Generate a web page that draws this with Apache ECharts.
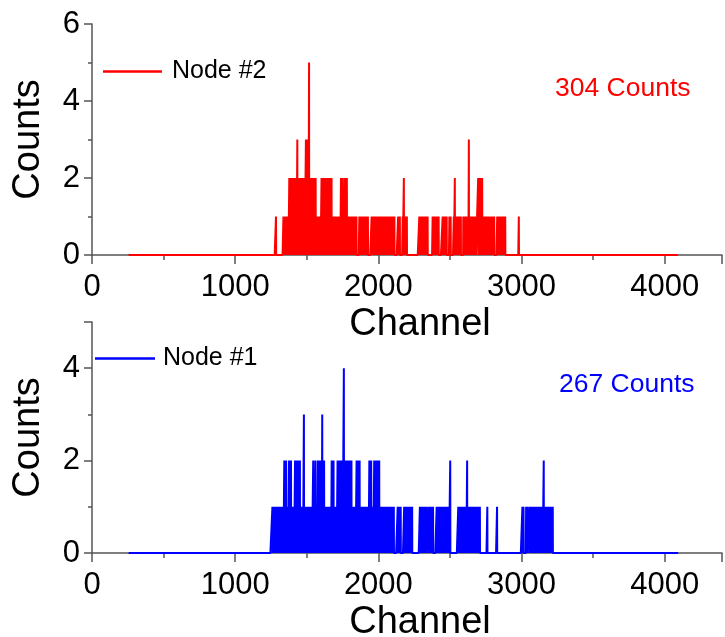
<!DOCTYPE html>
<html>
<head>
<meta charset="utf-8">
<script src="https://cdn.jsdelivr.net/npm/echarts@6/dist/echarts.min.js"></script>
<style>
  html, body { margin: 0; padding: 0; background: #fff; }
  #chart { width: 725px; height: 637px; }
</style>
</head>
<body>
<div id="chart"></div>
<script>
// channel range of the spectrum
const chStart = 256
const chEnd = 4096

// Node #2 (top) – channels holding 1, 2, 3, 5 counts
const node2c1 = [1285, 1337,1343,1350,1357,1364,1371, 1384,1404, 1569,1576,1582,1589,1596, 1628,
  1680,1686,1693,1699,1706,1713,1720,1726,1733, 1759, 1787,1794,1800,1807,1813,1820,1827,1833,1840,1847,
  1867,1874,1880,1888,1894, 1906,1913,1920,1927, 1953,1960,1966,1973,1987,1994,2001,2008,2014,2021,2028,2035,2042,
  2056,2063,2070,2077,2084,2098,2105,2112, 2138,2144,2150, 2170,2185,2192,2199, 2286,2293,2300,2307,2314,2321,
  2334,2344, 2379,2386,2393,2400,2407,2414,2421, 2449,2456,2463,2470,2477, 2496,2505,
  2527,2541,2548,2555,2562,2569,2576, 2593,2600,2607,2614,2621,2628,2639,2646,2653,2660,2667,2674,2681,
  2732,2739,2746,2753,2760,2767,2774,2781,2788,2795,2802,2809, 2830,2837,2844,2851,2858,2865,2872,2879,2886, 2981]
const node2c2 = [1378,1391,1397,1410, 1417,1423,1428,1440,1446,1452,1459,1465,1472,1478,1485,1511,1523,1530,1536,1543,1549,1556,1562,
  1603,1609,1616,1622, 1635,1641,1648,1654,1661,1667,1673, 1739,1745,1752, 1767,1773,1780, 2178, 2534, 2697,2704,2711,2718,2725]
const node2c3 = [1434, 1494, 1500, 1507, 2632]
const node2c5 = [1516]

// Node #1 (bottom) – channels holding 1, 2, 3, 4 counts
const node1c1 = [1260,1266,1273,1280,1287,1294,1301,1308,1315,1322,1329,1336, 1350, 1363,1369, 1383, 1397,1404,1411, 1431,
  1459,1466,1473, 1487,1494,1501,1508,1515,1522,1529,1536, 1552, 1566,1571, 1628,1635,1642,1649,1656,1663,1669, 1680,
  1694,1701,1708, 1729, 1792, 1819,1826,1833,1840, 1855, 1876,1883,1890,1897,1904,1911,1918,1925,1931, 1944, 1957,1964, 1985,
  2013,2020,2027,2034,2041,2048,2055,2062,2068, 2080,2087,2094,2101,2108, 2135,2142,2149,2156,
  2180,2187,2194,2201,2208,2215,2222,2229,2236, 2290,2297,2304,2311,2318,2325,2332,2339, 2354,2361,2368,2375,2382,
  2407,2414,2421, 2430,2437,2444,2451, 2465,2472,2479,2486,2493, 2558,2565,2572,2579,2586,2593,2600,2607,2614,
  2627,2634,2641,2648,2655,2662,2669,2676,2683,2690,2697,2704,2709, 2761, 2829, 3006,3014, 3032,3040, 3055,3063,3069,
  3077,3084,3091,3098,3105,3112,3119,3126,3133,3140,3147, 3162,3169,3176,3183,3190,3197,3204,3211,3218]
const node1c2 = [1343,1356, 1376,1390, 1418,1424,1438,1445,1452, 1545,1560, 1577,1584,1591,1598,1604,1615,1621, 1674,1687,
  1715,1722,1736,1743,1750,1764,1771,1778,1785,1799,1806,1812, 1848,1862,1869, 1937,1950, 1971,1978,1992,1999,2006, 2502, 2620, 3155]
const node1c3 = [1480, 1608]
const node1c4 = [1759]

const xTicks = [0, 1000, 2000, 3000, 4000]
const totals = ['304 Counts', '267 Counts']

function buildSpectrum(levels) {
  const counts = {}
  levels.forEach(([chs, n]) => chs.forEach(c => { counts[c] = n }))
  const out = []
  for (let ch = chStart; ch <= chEnd; ch++) {
    out.push([ch, counts[ch] || 0])
  }
  return out
}

const node2Data = buildSpectrum([[node2c1, 1], [node2c2, 2], [node2c3, 3], [node2c5, 5]])
const node1Data = buildSpectrum([[node1c1, 1], [node1c2, 2], [node1c3, 3], [node1c4, 4]])

const font = "'Liberation Sans', Arial, sans-serif"
const axisColor = '#555'

function xAxisOpt(idx) {
  return {
    gridIndex: idx,
    type: 'value',
    min: 0,
    max: 4400,
    interval: 1000,
    name: 'Channel',
    nameLocation: 'middle',
    nameGap: 51,
    nameTextStyle: { fontSize: 38, color: '#000', fontFamily: font, padding: [0, 0, 0, 26] },
    axisLine: { lineStyle: { color: axisColor, width: 1.5 } },
    axisTick: { length: 9, lineStyle: { color: axisColor, width: 1.5 } },
    minorTick: { show: true, splitNumber: 2, length: 5, lineStyle: { color: axisColor, width: 1.5 } },
    axisLabel: {
      fontSize: 31, color: '#000', fontFamily: font, margin: 17, showMaxLabel: false,
      formatter: v => xTicks.includes(v) ? String(v) : ''
    },
    splitLine: { show: false }
  }
}

function yAxisOpt(idx, max) {
  return {
    gridIndex: idx,
    type: 'value',
    min: 0,
    max: max,
    interval: 2,
    name: 'Counts',
    nameLocation: 'middle',
    nameGap: 44,
    nameTextStyle: { fontSize: 38, color: '#000', fontFamily: font },
    axisLine: { show: true, lineStyle: { color: axisColor, width: 1.5 } },
    axisTick: { show: true, length: 8, lineStyle: { color: axisColor, width: 1.5 } },
    minorTick: { show: true, splitNumber: 2, length: 4, lineStyle: { color: axisColor, width: 1.5 } },
    axisLabel: { fontSize: 31, color: '#000', fontFamily: font, margin: 12, showMaxLabel: max % 2 === 0 },
    splitLine: { show: false }
  }
}

const chart = echarts.init(document.getElementById('chart'))
chart.setOption({
  animation: false,
  backgroundColor: '#fff',
  grid: [
    { left: 92, right: 3, top: 24, height: 231, outerBoundsMode: 'none' },
    { left: 92, right: 3, top: 322, height: 231, outerBoundsMode: 'none' }
  ],
  xAxis: [xAxisOpt(0), xAxisOpt(1)],
  yAxis: [yAxisOpt(0, 6), yAxisOpt(1, 5)],
  legend: [
    { data: ['Node #2'], left: 98, top: 54, icon: 'rect', itemWidth: 59, itemHeight: 2.5, itemGap: 0,
      textStyle: { fontSize: 25, color: '#000', fontFamily: font, padding: [0, 0, 0, 5] } },
    { data: ['Node #1'], left: 90, top: 341, icon: 'rect', itemWidth: 60, itemHeight: 2.5, itemGap: 0,
      textStyle: { fontSize: 25, color: '#000', fontFamily: font, padding: [0, 0, 0, 3] } }
  ],
  title: [
    { text: totals[0], left: 550, top: 70, textStyle: { fontSize: 26.5, fontWeight: 'normal', color: '#ff0000', fontFamily: font } },
    { text: totals[1], left: 554, top: 366, textStyle: { fontSize: 26.5, fontWeight: 'normal', color: '#0000ff', fontFamily: font } }
  ],
  series: [
    {
      name: 'Node #2', type: 'line', xAxisIndex: 0, yAxisIndex: 0,
      data: node2Data, showSymbol: false, symbol: 'none', sampling: null, clip: false,
      lineStyle: { color: '#ff0000', width: 2 }, itemStyle: { color: '#ff0000' }
    },
    {
      name: 'Node #1', type: 'line', xAxisIndex: 1, yAxisIndex: 1,
      data: node1Data, showSymbol: false, symbol: 'none', sampling: null, clip: false,
      lineStyle: { color: '#0000ff', width: 2 }, itemStyle: { color: '#0000ff' }
    }
  ]
})
</script>
</body>
</html>
